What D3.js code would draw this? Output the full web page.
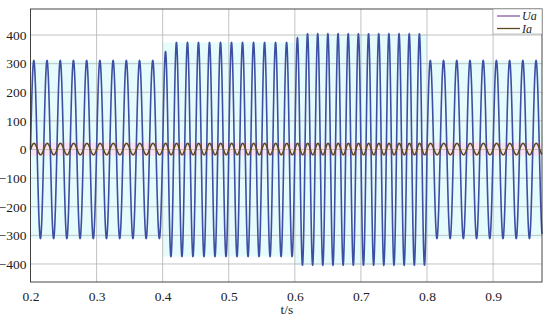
<!DOCTYPE html>
<html>
<head>
<meta charset="UTF-8">
<script src="https://d3js.org/d3.v7.min.js"></script>
<style>
  body { margin: 0; background: #fff; }
  text { font-family: "Liberation Serif", "DejaVu Serif", serif; }
</style>
</head>
<body>
<svg id="chart" width="550" height="320"></svg>
<script>
// segments of the simulation: start time, end time, voltage peak (V), frequency (Hz)
const segStart = [0.2, 0.4, 0.6, 0.8];
const segEnd   = [0.4, 0.6, 0.8, 0.974];
const uaPeak   = [311, 374, 404, 311];
const freqHz   = [50, 60, 65, 50];
const rampSec  = [0, 0.0087, 0.0072, 0];   // rise time of the voltage step
const iaPeak   = [20, 20, 20, 20];
const xTicks = [0.2, 0.3, 0.4, 0.5, 0.6, 0.7, 0.8, 0.9];
const yTicks = [-400, -300, -200, -100, 0, 100, 200, 300, 400];
const legendNames = ["Ua", "Ia"];

const width = 550, height = 320;
const margin = { top: 9, right: 8, bottom: 38, left: 30.5 };

const svg = d3.select("#chart");

const x = d3.scaleLinear().domain([0.2, 0.974]).range([margin.left, width - margin.right]);
const y = d3.scaleLinear().domain([-463, 491]).range([height - margin.bottom, margin.top]);

// build the waveforms, phase kept continuous across segments
const ua = [], ia = [];
let phase0 = 0;
segStart.forEach((t0, i) => {
  const t1 = segEnd[i];
  const prev = i > 0 ? uaPeak[i - 1] : uaPeak[i];
  for (let t = t0; t <= t1 + 1e-9; t += 0.0001) {
    const ph = phase0 + 2 * Math.PI * freqHz[i] * (t - t0);
    let a = uaPeak[i];
    if (rampSec[i] > 0 && t - t0 < rampSec[i]) a = prev + (uaPeak[i] - prev) * (t - t0) / rampSec[i];
    ua.push([t, a * Math.sin(ph)]);
    ia.push([t, iaPeak[i] * Math.sin(ph - 0.1) + 1.5]);
  }
  phase0 += 2 * Math.PI * freqHz[i] * (t1 - t0);
});

const plot = svg.append("g");

// soft colour bands like in the original picture
plot.selectAll(".band")
  .data(segStart)
  .enter().append("rect")
  .attr("x", (d, i) => x(d))
  .attr("width", (d, i) => x(segEnd[i]) - x(d))
  .attr("y", (d, i) => y(uaPeak[i]))
  .attr("height", (d, i) => y(-uaPeak[i]) - y(uaPeak[i]))
  .attr("fill", "#e6fbfc");
plot.append("rect")
  .attr("x", x(0.2)).attr("width", x(0.974) - x(0.2))
  .attr("y", y(24)).attr("height", y(-22) - y(24))
  .attr("fill", "#fbe3f1");

// grid
plot.selectAll(".gx").data(xTicks).enter().append("line")
  .attr("x1", d => x(d)).attr("x2", d => x(d))
  .attr("y1", y.range()[0]).attr("y2", y.range()[1])
  .attr("stroke", "#b4b4b4").attr("stroke-width", 0.8);
plot.selectAll(".gy").data(yTicks).enter().append("line")
  .attr("x1", x.range()[0]).attr("x2", x.range()[1])
  .attr("y1", d => y(d)).attr("y2", d => y(d))
  .attr("stroke", "#b4b4b4").attr("stroke-width", 0.8);

const line = d3.line().x(d => x(d[0])).y(d => y(d[1]));

plot.append("path").datum(ua)
  .attr("d", line).attr("fill", "none")
  .attr("stroke", "#3d4fa3").attr("stroke-width", 1.6);
plot.append("path").datum(ia)
  .attr("d", line).attr("fill", "none")
  .attr("stroke", "#5b4a1c").attr("stroke-width", 1.5);

// axes box
svg.append("rect")
  .attr("x", x.range()[0]).attr("y", y.range()[1])
  .attr("width", x.range()[1] - x.range()[0])
  .attr("height", y.range()[0] - y.range()[1])
  .attr("fill", "none").attr("stroke", "#333").attr("stroke-width", 0.9);

// tick labels
const xAxis = svg.append("g")
  .attr("transform", `translate(0,${y.range()[0]})`)
  .call(d3.axisBottom(x).tickValues(xTicks).tickSize(0).tickPadding(9).tickFormat(d3.format(".1f")));
xAxis.select(".domain").remove();
xAxis.attr("font-family", null);
xAxis.selectAll("text").style("font-size", "13.5px")
  .style("font-family", "'Liberation Serif', serif").attr("fill", "#222");

const yAxis = svg.append("g")
  .attr("transform", `translate(${x.range()[0]},0)`)
  .call(d3.axisLeft(y).tickValues(yTicks).tickSize(0).tickPadding(4));
yAxis.select(".domain").remove();
yAxis.attr("font-family", null);
yAxis.selectAll("text").style("font-size", "13.5px")
  .style("font-family", "'Liberation Serif', serif").attr("fill", "#222");

svg.append("text")
  .attr("x", 287).attr("y", 314)
  .attr("text-anchor", "middle")
  .style("font-size", "13.5px").attr("fill", "#222")
  .text("t/s");

// legend
const lg = svg.append("g").attr("transform", `translate(${x.range()[1] - 49},${y.range()[1]})`);
lg.append("rect").attr("width", 49).attr("height", 25)
  .attr("fill", "#fff").attr("stroke", "#999").attr("stroke-width", 0.6);
const legendColors = ["#8a5aa8", "#5b4a1c"];
legendNames.forEach((name, i) => {
  lg.append("line").attr("x1", 4).attr("x2", 27)
    .attr("y1", 7 + i * 12.5).attr("y2", 7 + i * 12.5)
    .attr("stroke", legendColors[i]).attr("stroke-width", 1.3);
  lg.append("text").attr("x", 29).attr("y", 11 + i * 12.5)
    .style("font-size", "12px").style("font-style", "italic").attr("fill", "#222")
    .text(name);
});
</script>
</body>
</html>
